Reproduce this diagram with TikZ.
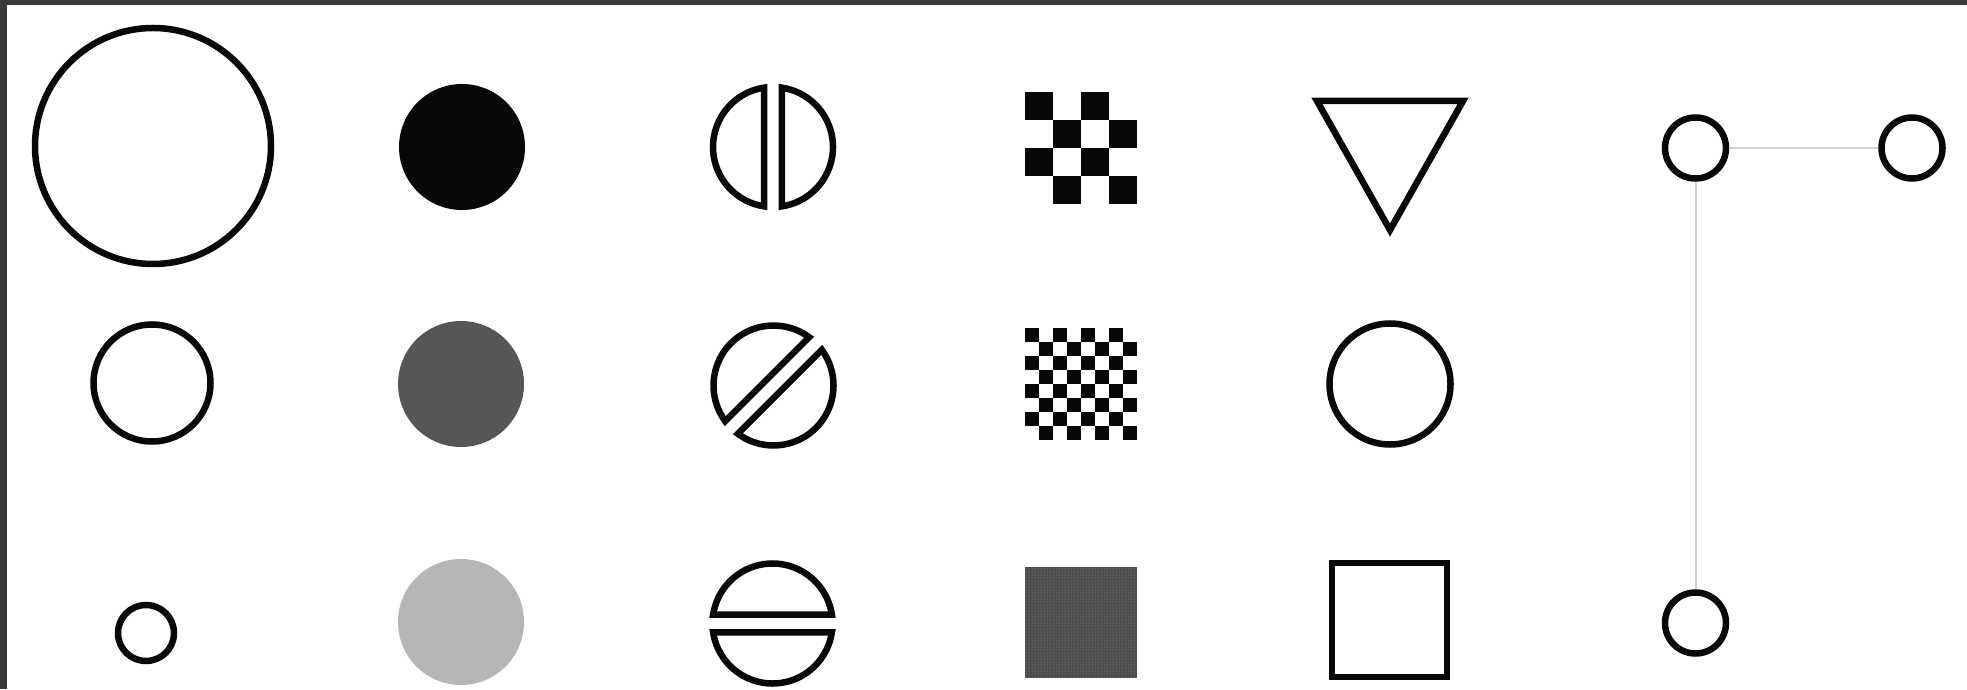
\documentclass[tikz,border=0pt]{standalone}
\usepackage{xcolor}
\definecolor{frame}{RGB}{57,57,57}
\definecolor{ink}{RGB}{8,8,8}
\definecolor{slate}{RGB}{86,86,86}
\definecolor{mist}{RGB}{182,182,182}
\definecolor{wire}{RGB}{208,208,208}
\usepackage{tikz}
\usetikzlibrary{patterns}
\tikzset{
  %% open circles and filled discs
  ring/.style={circle, draw=ink, line width=6.5pt, inner sep=0pt, minimum size=#1},
  disc/.style={circle, fill=#1, inner sep=0pt, minimum size=126pt},
  outline/.style={draw=ink, line width=6.5pt},
  link/.style={draw=wire, line width=2pt},
}
%% circle cut in two halves, chord 9pt off the centre
\newcommand{\splitring}[2]{%
  \begin{scope}[shift={#1}, rotate=#2]
    \draw[outline] (98.56:60) arc[start angle=98.56, end angle=261.44, radius=60pt] -- cycle;
    \draw[outline] (-81.44:60) arc[start angle=-81.44, end angle=81.44, radius=60pt] -- cycle;
  \end{scope}}

\begin{document}
\begin{tikzpicture}[x=1pt, y=1pt]
\useasboundingbox (0,0) rectangle (1967,689);
\fill[frame] (0,0) rectangle (1967,689);
\fill[white] (7,0) rectangle (1967,684);

%% sizes
\node[ring=236pt] (big) at (153,543) {};
\node[ring=117pt] (mid) at (152,306) {};
\node[ring=56pt]  (small) at (146,56) {};

%% tones
\node[disc=ink]   (black) at (462,542) {};
\node[disc=slate] (dark)  at (461,305) {};
\node[disc=mist]  (light) at (461,67) {};

%% split circles
\splitring{(773,542)}{0}
\splitring{(773.5,303.5)}{-45}
\splitring{(772.5,65.5)}{90}

%% textures
\foreach \r in {0,...,3}
  \foreach \c in {0,2}
    \fill[ink] ({1025+28*(\c+mod(\r,2))}, {597-28*(\r+1)}) rectangle ++(28,28);
\foreach \r in {0,...,7}
  \foreach \c in {0,2,4,6}
    \fill[ink] ({1025+14*(\c+mod(\r,2))}, {361-14*(\r+1)}) rectangle ++(14,14);
\fill[black!70] (1025,11) rectangle (1137,122);
\fill[pattern=dots, pattern color=black!40] (1025,11) rectangle (1137,122);

%% outlines
\draw[outline] (1317,588) -- (1463,588) -- (1390,459) -- cycle;
\node[ring=121pt] (round) at (1390,305) {};
\draw[outline] (1332,12) rectangle (1447,126);

%% small network
\node[ring=61pt] (hub) at (1695.5,541) {};
\node[ring=61pt] (east) at (1912,541) {};
\node[ring=61pt] (south) at (1695.5,66) {};
\draw[link] (hub) -- (east);
\draw[link] (hub) -- (south);
\end{tikzpicture}
\end{document}
